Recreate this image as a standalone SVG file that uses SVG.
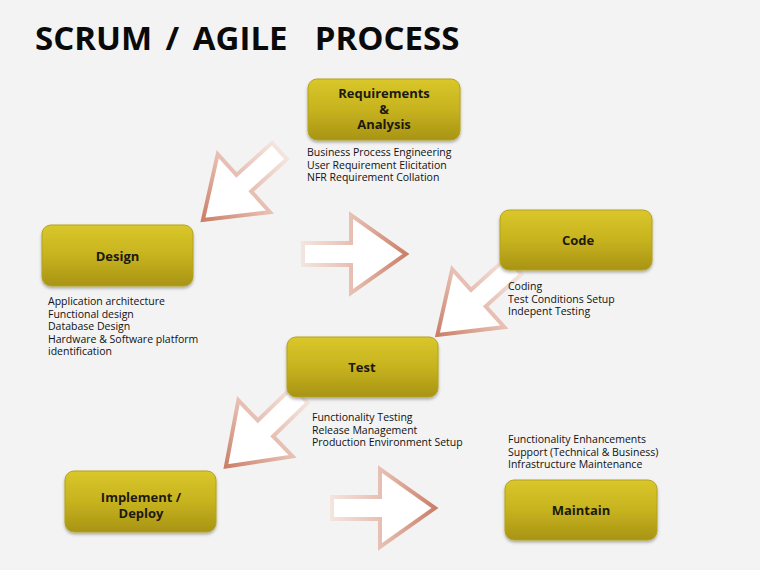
<svg xmlns="http://www.w3.org/2000/svg" width="760" height="570" viewBox="0 0 760 570">
<defs>
<linearGradient id="gold" x1="0" y1="0" x2="0" y2="1">
<stop offset="0" stop-color="#d9c72b"/>
<stop offset="0.5" stop-color="#c7b31e"/>
<stop offset="1" stop-color="#a89414"/>
</linearGradient>
<linearGradient id="arrowStroke" x1="0" y1="0" x2="1" y2="0">
<stop offset="0" stop-color="#f3e4de"/>
<stop offset="0.5" stop-color="#e6bdb0"/>
<stop offset="1" stop-color="#cb7f68"/>
</linearGradient>
<filter id="shadow" x="-10%" y="-10%" width="120%" height="130%">
<feDropShadow dx="0" dy="2" stdDeviation="1.5" flood-color="#000" flood-opacity="0.3"/>
</filter>
<path id="arrow" d="M0,-11 L48,-11 L48,-39 L103,0 L48,39 L48,11 L0,11 Z"/>
</defs>
<style>
.box{fill:url(#gold);stroke:#b4a21c;stroke-width:1;filter:url(#shadow)}
.lbl{font-family:"Open Sans","DejaVu Sans",sans-serif;font-weight:bold;font-size:13px;fill:#1c1a10;text-anchor:middle}
.desc{font-family:"Open Sans","DejaVu Sans",sans-serif;font-size:10.5px;fill:#111}
.arr{fill:#ffffff;stroke:url(#arrowStroke);stroke-width:4;stroke-linejoin:miter}
.title{font-family:"Open Sans","DejaVu Sans",sans-serif;font-weight:bold;font-size:33px;fill:#0a0a0a;word-spacing:5px}
</style>
<rect x="0" y="0" width="760" height="570" fill="#f3f3f3"/>
<text class="title" x="35" y="50" xml:space="preserve">SCRUM / AGILE  PROCESS</text>

<g id="connectors">
<use href="#arrow" class="arr" transform="translate(279.5,151) rotate(138)"/>
<use href="#arrow" class="arr" transform="translate(303,254)"/>
<use href="#arrow" class="arr" transform="translate(514,266) rotate(138)"/>
<use href="#arrow" class="arr" transform="translate(300,395) rotate(136)"/>
<use href="#arrow" class="arr" transform="translate(332,508)"/>
</g>

<g id="requirements">
<rect class="box" x="308" y="79" width="152" height="61" rx="9"/>
<text class="lbl"><tspan x="384" y="98">Requirements</tspan><tspan x="384" y="113.5">&amp;</tspan><tspan x="384" y="129">Analysis</tspan></text>
<text class="desc"><tspan x="307" y="156">Business Process Engineering</tspan><tspan x="307" y="168.5">User Requirement Elicitation</tspan><tspan x="307" y="181">NFR Requirement Collation</tspan></text>
</g>

<g id="design">
<rect class="box" x="42" y="225" width="151" height="61" rx="9"/>
<text class="lbl" x="117.5" y="260.5">Design</text>
<text class="desc"><tspan x="48" y="305">Application architecture</tspan><tspan x="48" y="317.5">Functional design</tspan><tspan x="48" y="330">Database Design</tspan><tspan x="48" y="342.5">Hardware &amp; Software platform</tspan><tspan x="48" y="355">identification</tspan></text>
</g>

<g id="code">
<rect class="box" x="500" y="210" width="152" height="60" rx="9"/>
<text class="lbl" x="578" y="244.5">Code</text>
<text class="desc"><tspan x="508" y="290">Coding</tspan><tspan x="508" y="302.5">Test Conditions Setup</tspan><tspan x="508" y="315">Indepent Testing</tspan></text>
</g>

<g id="test">
<rect class="box" x="287" y="337" width="151" height="60" rx="9"/>
<text class="lbl" x="362" y="371.5">Test</text>
<text class="desc"><tspan x="312" y="421">Functionality Testing</tspan><tspan x="312" y="433.5">Release Management</tspan><tspan x="312" y="446">Production Environment Setup</tspan></text>
</g>

<g id="implement">
<rect class="box" x="65" y="471" width="151" height="61" rx="9"/>
<text class="lbl"><tspan x="141" y="501.5">Implement /</tspan><tspan x="141" y="517.5">Deploy</tspan></text>
</g>

<g id="maintain">
<rect class="box" x="505" y="480" width="152" height="60" rx="9"/>
<text class="lbl" x="581" y="514.5">Maintain</text>
<text class="desc"><tspan x="508" y="443">Functionality Enhancements</tspan><tspan x="508" y="455.5">Support (Technical &amp; Business)</tspan><tspan x="508" y="468">Infrastructure Maintenance</tspan></text>
</g>
</svg>
